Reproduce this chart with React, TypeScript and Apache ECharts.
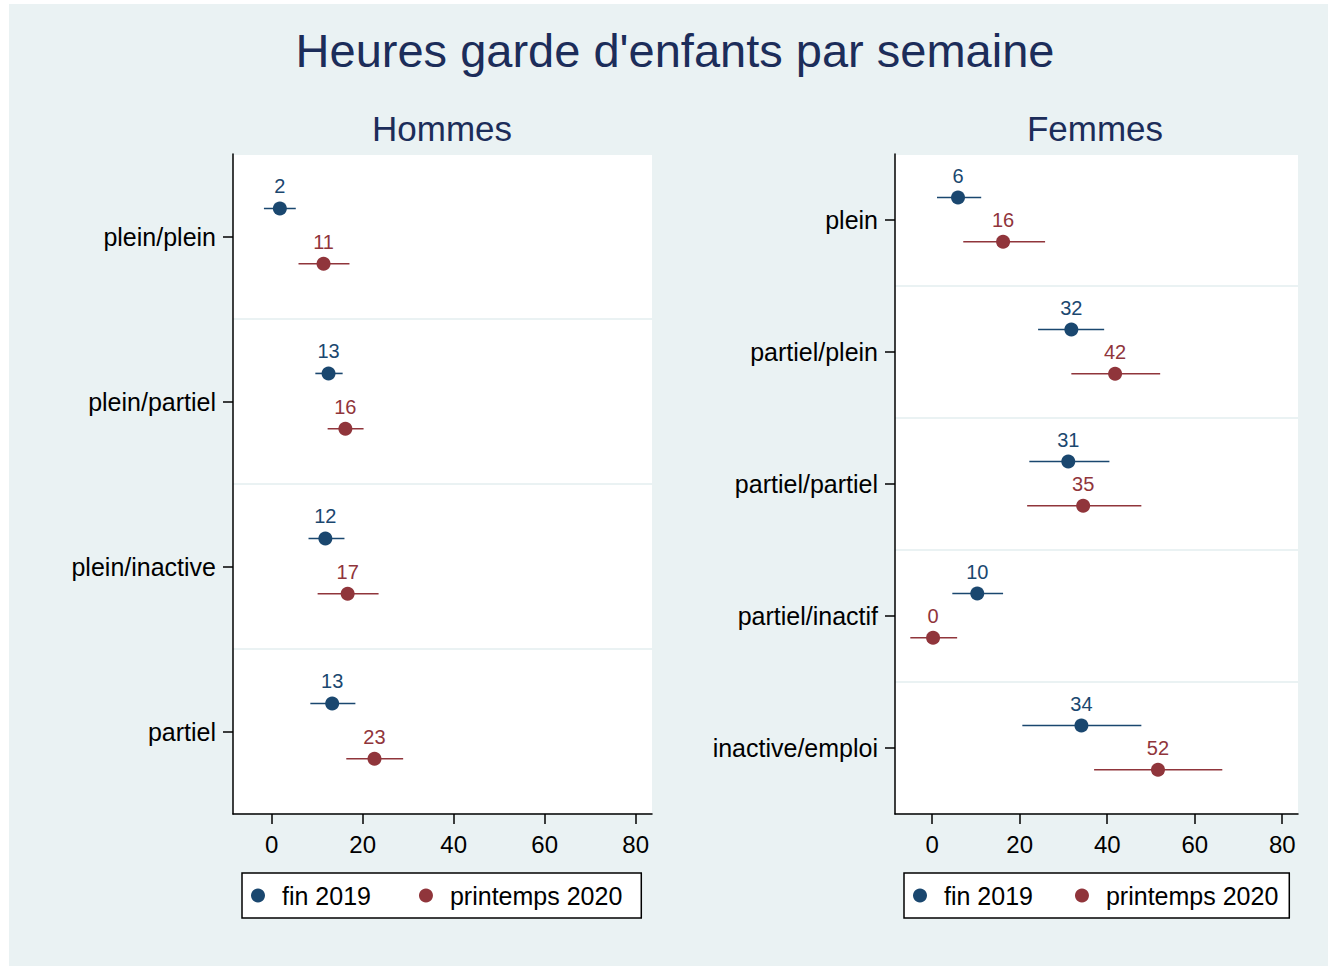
import React, { useEffect, useRef } from "react";
import * as echarts from "echarts";

const hommesCats = ["plein/plein", "plein/partiel", "plein/inactive", "partiel"];
const hommes2019 = [1.8, 12.5, 11.8, 13.3];
const hommes2019Lo = [-1.7, 9.6, 8.1, 8.5];
const hommes2019Hi = [5.3, 15.6, 16.0, 18.4];
const hommes2020 = [11.4, 16.2, 16.7, 22.6];
const hommes2020Lo = [5.9, 12.3, 10.1, 16.4];
const hommes2020Hi = [17.1, 20.2, 23.5, 28.9];

const femmesCats = ["plein", "partiel/plein", "partiel/partiel", "partiel/inactif", "inactive/emploi"];
const femmes2019 = [5.9, 31.8, 31.1, 10.3, 34.1];
const femmes2019Lo = [1.1, 24.2, 22.2, 4.6, 20.6];
const femmes2019Hi = [11.2, 39.3, 40.5, 16.2, 47.8];
const femmes2020 = [16.2, 41.8, 34.5, 0.2, 51.6];
const femmes2020Lo = [7.1, 31.8, 21.7, -5.0, 37.0];
const femmes2020Hi = [25.8, 52.1, 47.8, 5.7, 66.3];

const xTicks = [0, 20, 40, 60, 80];
const seriesNames = ["fin 2019", "printemps 2020"];

const BLUE = "#1a476f";
const RED = "#90353b";
const BG = "#eaf2f3";
const NAVY = "#1c2d5a";
const FONT = "Liberation Sans, Arial, sans-serif";
const OFF2019 = -0.17;
const OFF2020 = 0.165;

function ciSeries(name: string, lo: number[], hi: number[], off: number, color: string, gi: number) {
  return {
    type: "custom",
    name,
    coordinateSystem: "cartesian2d",
    xAxisIndex: gi,
    yAxisIndex: gi * 2 + 1,
    encode: { x: [0, 1], y: 2 },
    data: lo.map((l, i) => [l, hi[i], i + off]),
    renderItem: (params: any, api: any) => {
      const y = api.value(2);
      const p1 = api.coord([api.value(0), y]);
      const p2 = api.coord([api.value(1), y]);
      return {
        type: "line",
        shape: { x1: p1[0], y1: p1[1], x2: p2[0], y2: p2[1] },
        style: { stroke: color, lineWidth: 1.6 },
      };
    },
    z: 2,
    silent: true,
  };
}

function pointSeries(name: string, vals: number[], off: number, color: string, gi: number) {
  return {
    type: "scatter",
    name,
    xAxisIndex: gi,
    yAxisIndex: gi * 2 + 1,
    symbol: "circle",
    symbolSize: 14,
    itemStyle: { color, opacity: 1 },
    data: vals.map((v, i) => [v, i + off]),
    label: {
      show: true,
      position: "top",
      distance: 5,
      color,
      fontSize: 20,
      fontFamily: FONT,
      formatter: (p: any) => String(Math.round(p.value[0])),
    },
    z: 3,
  };
}

function xAxisDef(gi: number) {
  return {
    type: "value",
    gridIndex: gi,
    min: -8.5,
    max: 83.6,
    axisLine: { show: true, onZero: false, lineStyle: { color: "#000", width: 1.5 } },
    axisTick: { show: true, length: 10, lineStyle: { color: "#000", width: 1.5 }, customValues: xTicks },
    axisLabel: { color: "#000", fontSize: 24, fontFamily: FONT, margin: 18, customValues: xTicks },
    splitLine: { show: false },
  };
}

function yAxisDefs(gi: number, cats: string[]) {
  return [
    {
      type: "category",
      gridIndex: gi,
      data: cats,
      inverse: true,
      boundaryGap: true,
      axisLine: { show: true, onZero: false, lineStyle: { color: "#000", width: 1.5 } },
      axisTick: { show: true, alignWithLabel: true, length: 10, lineStyle: { color: "#000", width: 1.5 } },
      axisLabel: { color: "#000", fontSize: 25, fontFamily: FONT, margin: 17 },
      splitLine: { show: true, lineStyle: { color: BG, width: 2 } },
    },
    {
      type: "value",
      gridIndex: gi,
      min: -0.5,
      max: cats.length - 0.5,
      inverse: true,
      show: false,
      axisLine: { onZero: false },
      splitLine: { show: false },
    },
  ];
}

function legendDef(left: number, gap: number, padRight: number) {
  return {
    left,
    top: 869,
    orient: "horizontal",
    data: seriesNames.map((n) => ({ name: n, icon: "circle" })),
    itemWidth: 14,
    itemHeight: 14,
    itemGap: gap,
    padding: [10, padRight, 10, 9],
    borderColor: "#000",
    borderWidth: 1.5,
    backgroundColor: "#fff",
    textStyle: { color: "#000", fontSize: 25, fontFamily: FONT, padding: [0, 0, 0, 12] },
    selectedMode: false,
  };
}

export default function App() {
  const ref = useRef<HTMLDivElement>(null);
  useEffect(() => {
    document.body.style.margin = "0";
    if (!ref.current) return;
    const chart = echarts.init(ref.current, undefined, { renderer: "svg" });
    chart.setOption({
      animation: false,
      backgroundColor: BG,
      textStyle: { fontFamily: FONT },
      graphic: [
        {
          type: "text",
          x: 666,
          y: 46,
          style: { text: "Heures garde d'enfants par semaine", fontSize: 47, fill: NAVY, fontFamily: FONT, textAlign: "center", textVerticalAlign: "middle" },
        },
        {
          type: "text",
          x: 433,
          y: 124,
          style: { text: "Hommes", fontSize: 35, fill: NAVY, fontFamily: FONT, textAlign: "center", textVerticalAlign: "middle" },
        },
        {
          type: "text",
          x: 1086,
          y: 124,
          style: { text: "Femmes", fontSize: 35, fill: NAVY, fontFamily: FONT, textAlign: "center", textVerticalAlign: "middle" },
        },
      ],
      grid: [
        { left: 224, top: 150, width: 419, height: 660, show: true, backgroundColor: "#fff", borderWidth: 0 },
        { left: 886, top: 150, width: 403, height: 660, show: true, backgroundColor: "#fff", borderWidth: 0 },
      ],
      xAxis: [xAxisDef(0), xAxisDef(1)],
      yAxis: [...yAxisDefs(0, hommesCats), ...yAxisDefs(1, femmesCats)],
      legend: [legendDef(233, 48, 19), legendDef(895, 42, 11)],
      series: [
        ciSeries("ci h 2019", hommes2019Lo, hommes2019Hi, OFF2019, BLUE, 0),
        ciSeries("ci h 2020", hommes2020Lo, hommes2020Hi, OFF2020, RED, 0),
        pointSeries(seriesNames[0], hommes2019, OFF2019, BLUE, 0),
        pointSeries(seriesNames[1], hommes2020, OFF2020, RED, 0),
        ciSeries("ci f 2019", femmes2019Lo, femmes2019Hi, OFF2019, BLUE, 1),
        ciSeries("ci f 2020", femmes2020Lo, femmes2020Hi, OFF2020, RED, 1),
        pointSeries(seriesNames[0], femmes2019, OFF2019, BLUE, 1),
        pointSeries(seriesNames[1], femmes2020, OFF2020, RED, 1),
      ],
    });
    return () => chart.dispose();
  }, []);
  return (
    <div style={{ position: "relative", width: 1330, height: 968, background: "#fff" }}>
      <div ref={ref} style={{ position: "absolute", left: 9, top: 4, width: 1319, height: 962 }} />
    </div>
  );
}
